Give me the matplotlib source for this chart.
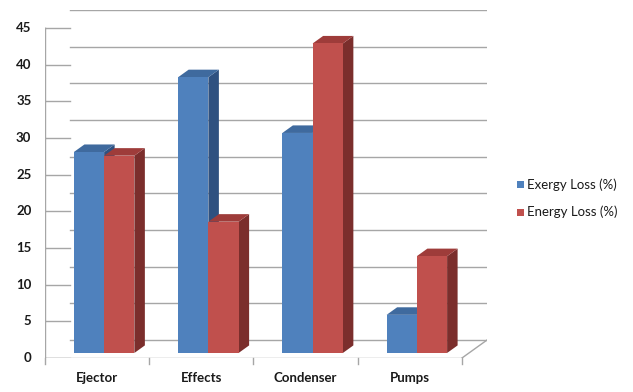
import matplotlib
matplotlib.use("Agg")
import matplotlib.pyplot as plt
from matplotlib.patches import Polygon

categories = ["Ejector", "Effects", "Condenser", "Pumps"]
exergy_loss = [27.4, 37.6, 30.0, 5.2]
energy_loss = [26.9, 17.9, 42.2, 13.2]
series_names = ["Exergy Loss (%)", "Energy Loss (%)"]
y_ticks = list(range(0, 50, 5))

# colours: front, top, side
blue = ("#4F81BD", "#3F6A9E", "#2F5180")
red = ("#C0504D", "#9E3C3A", "#7B2E2C")
grid_col = "#A6A6A6"

# oblique depth of the floor (category units, value units)
DX, DY = 0.24, 2.45
BAR_W = 0.29
F0, F1 = 0.28, 0.70  # bar front / back as fraction of depth

fig = plt.figure(figsize=(6.33, 3.92), dpi=100)
ax = fig.add_axes([45 / 633, 34 / 392, (487 - 45) / 633, (358 - 10) / 392])
ax.set_xlim(-0.5, 3.5 + DX)
ax.set_ylim(0, 45 + DY)
ax.axis("off")

n = len(categories)
x0, x1 = -0.5, n - 0.5

# back wall gridlines and left wall diagonals
for v in y_ticks:
    ax.plot([x0 + DX, x1 + DX], [v + DY, v + DY], color=grid_col, lw=1, zorder=1)
    ax.plot([x0, x0 + DX], [v, v], color=grid_col, lw=1, zorder=1)
    ax.plot([x0 - 0.03, x0], [v, v], color=grid_col, lw=1, zorder=1)
    ax.text(x0 - 0.13, v, str(v), ha="right", va="center", fontsize=9.5,
            fontweight="bold", family="Lato", color="#1a1a1a")

# front axis, floor
ax.plot([x0, x0], [0, 45], color=grid_col, lw=1, zorder=1)
ax.plot([x0, x1], [0, 0], color=grid_col, lw=1, zorder=1)
ax.plot([x1, x1 + DX], [0, DY], color=grid_col, lw=1, zorder=1)
for i in range(n + 1):
    ax.plot([x0 + i, x0 + i], [0, -0.8], color=grid_col, lw=1, zorder=1, clip_on=False)
for i, c in enumerate(categories):
    ax.text(i, -2.7, c, ha="center", va="center", fontsize=9.5, fontweight="bold",
            family="Lato", color="#1a1a1a")


def bar3d(xl, h, cols, z):
    fx, fy = F0 * DX, F0 * DY
    bx, by = (F1 - F0) * DX, (F1 - F0) * DY
    xl, xr = xl + fx, xl + BAR_W + fx
    yb, yt = fy, h + fy
    side = [(xr, yb), (xr + bx, yb + by), (xr + bx, yt + by), (xr, yt)]
    top = [(xl, yt), (xr, yt), (xr + bx, yt + by), (xl + bx, yt + by)]
    ax.add_patch(Polygon(side, closed=True, fc=cols[2], ec="none", zorder=z))
    ax.add_patch(Polygon(top, closed=True, fc=cols[1], ec="none", zorder=z))
    ax.bar(xl, h, width=BAR_W, bottom=yb, align="edge", color=cols[0], zorder=z + 0.5)


for i in range(n):
    bar3d(i - BAR_W, exergy_loss[i], blue, 3)
    bar3d(i, energy_loss[i], red, 5)

# legend
for k, (name, cols) in enumerate(zip(series_names, [blue, red])):
    yy = 1 - (185 + k * 27) / 392
    fig.patches.append(plt.Rectangle((517 / 633, yy - 3.5 / 392), 7 / 633, 7 / 392,
                                     transform=fig.transFigure, fc=cols[0], ec="none"))
    fig.text(527 / 633, yy, name, ha="left", va="center", fontsize=9.5, family="Lato",
             color="#1a1a1a")

fig.savefig("out.png", dpi=100)
